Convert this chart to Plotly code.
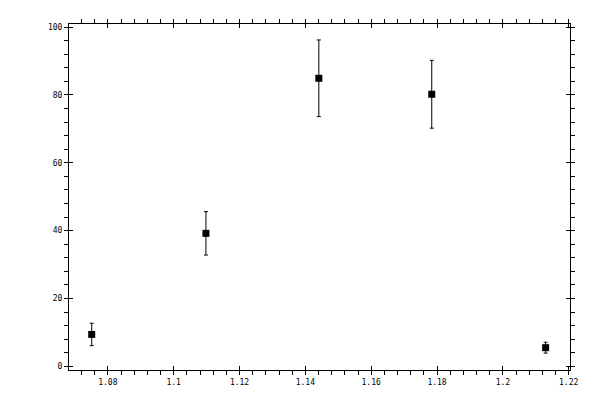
import plotly.graph_objects as go

# Data
x_vals = [1.0751, 1.1098, 1.1441, 1.1784, 1.2130]
y_vals = [9.4, 39.2, 84.9, 80.2, 5.5]
y_err = [3.3, 6.4, 11.3, 10.0, 1.6]

x_range = [1.0682, 1.2204]
y_range = [-1.08, 100.9]

font = dict(family="DejaVu Sans Mono", size=8, color="black")

fig = go.Figure()

# Main data: black squares with error bars
fig.add_trace(go.Scatter(
    x=x_vals, y=y_vals,
    mode="markers",
    marker=dict(symbol="square", size=7, color="black"),
    error_y=dict(type="data", array=y_err, visible=True,
                 color="black", thickness=1, width=2),
    showlegend=False,
    hoverinfo="skip",
))

# Invisible copy on the overlay axes so their inside ticks get drawn
fig.add_trace(go.Scatter(
    x=x_vals, y=y_vals,
    xaxis="x2", yaxis="y2",
    mode="markers",
    marker=dict(size=1, opacity=0),
    showlegend=False,
    hoverinfo="skip",
))

common = dict(
    showline=True, linecolor="black", linewidth=1,
    mirror="allticks", showgrid=False, zeroline=False,
    tickcolor="black", tickwidth=1,
)

fig.update_layout(
    width=600, height=400,
    # page body adds ~8px, so the margins are shifted to compensate
    margin=dict(l=61, r=38, t=11, b=38),
    paper_bgcolor="white", plot_bgcolor="white",
    font=font,
    xaxis=dict(
        range=x_range, tick0=1.08, dtick=0.02,
        ticks="outside", ticklen=4, tickfont=font,
        minor=dict(dtick=0.004, tick0=1.08, ticks="outside", ticklen=4,
                   tickcolor="black", tickwidth=1),
        **common,
    ),
    yaxis=dict(
        range=y_range, tick0=0, dtick=20,
        ticks="outside", ticklen=4, tickfont=font,
        minor=dict(dtick=4, tick0=0, ticks="outside", ticklen=4,
                   tickcolor="black", tickwidth=1),
        **common,
    ),
    # overlay axes give the inside half of the major ticks
    xaxis2=dict(
        range=x_range, tick0=1.08, dtick=0.02, overlaying="x",
        ticks="inside", ticklen=4, showticklabels=False,
        **common,
    ),
    yaxis2=dict(
        range=y_range, tick0=0, dtick=20, overlaying="y",
        ticks="inside", ticklen=4, showticklabels=False,
        **common,
    ),
)

fig.write_html("out.html")
